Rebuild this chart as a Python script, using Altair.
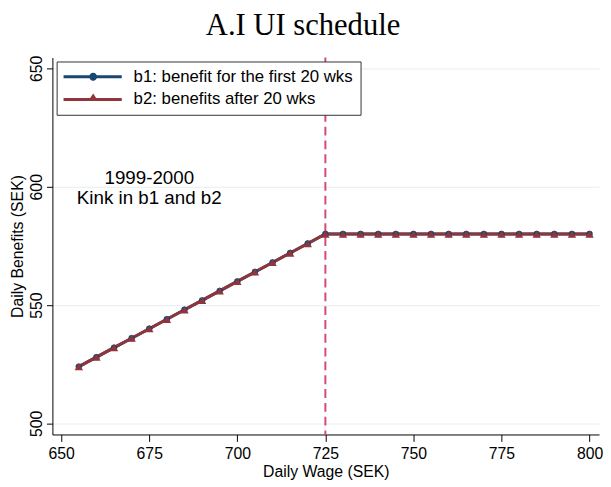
import altair as alt
import pandas as pd

# ---- data ----
wage = [655, 660, 665, 670, 675, 680, 685, 690, 695, 700, 705, 710, 715, 720, 725,
        730, 735, 740, 745, 750, 755, 760, 765, 770, 775, 780, 785, 790, 795, 800]
b1 = [524, 528, 532, 536, 540, 544, 548, 552, 556, 560, 564, 568, 572, 576, 580,
      580, 580, 580, 580, 580, 580, 580, 580, 580, 580, 580, 580, 580, 580, 580]
b2 = [524, 528, 532, 536, 540, 544, 548, 552, 556, 560, 564, 568, 572, 576, 580,
      580, 580, 580, 580, 580, 580, 580, 580, 580, 580, 580, 580, 580, 580, 580]
series_names = ["b1: benefit for the first 20 wks", "b2: benefits after 20 wks"]
series_colors = ["#1a476f", "#90353b"]
kink_wage = [725]
note_x = [675]
note_y = [603.6]
note_text = [["1999-2000", "Kink in b1 and b2"]]
x_ticks = [650, 675, 700, 725, 750, 775, 800]
y_ticks = [500, 550, 600, 650]

rows = []
for w, v in zip(wage, b1):
    rows.append({"wage": w, "benefit": v, "series": series_names[0]})
for w, v in zip(wage, b2):
    rows.append({"wage": w, "benefit": v, "series": series_names[1]})
df = pd.DataFrame(rows)
kink_df = pd.DataFrame({"wage": kink_wage})
note_df = pd.DataFrame({"wage": note_x, "benefit": note_y, "text": note_text})

FONT = "Liberation Sans"

xscale = alt.Scale(domain=[647.5, 802.7], nice=False, zero=False)
yscale = alt.Scale(domain=[495.3, 654.6], nice=False, zero=False)
color_scale = alt.Scale(domain=series_names, range=series_colors)

xenc = alt.X("wage:Q", scale=xscale,
             axis=alt.Axis(title="Daily Wage (SEK)", values=x_ticks, grid=False,
                           tickSize=7, labelPadding=4, titlePadding=3))
yenc = alt.Y("benefit:Q", scale=yscale,
             axis=alt.Axis(title="Daily Benefits (SEK)", values=y_ticks, grid=True,
                           gridColor="#e6eef0", tickSize=6, labelAngle=-90,
                           labelAlign="center", labelBaseline="bottom",
                           labelPadding=2, titlePadding=3))

# legend symbols: a line with a marker (units of 8.5 px)
path_b1 = ("M-1,-0.176L5.94,-0.176L5.94,0.176L-1,0.176Z "
           "M3.0,0A0.47,0.47,0,1,1,2.06,0A0.47,0.47,0,1,1,3.0,0Z")
path_b2 = ("M-1,-0.176L5.94,-0.176L5.94,0.176L-1,0.176Z "
           "M2.53,-0.71L3.12,0.18L1.94,0.18Z")

legend = alt.Legend(
    title=None, orient="none", legendX=4.3, legendY=4,
    symbolSize=289, symbolStrokeWidth=0, symbolOpacity=1,
    labelFont=FONT, labelFontSize=17, labelColor="black", labelLimit=500,
    labelExpr="datum.label + '  '",
    labelOffset=54, padding=7, rowPadding=5,
    strokeColor="#333333", fillColor="white",
)

base = alt.Chart(df)
f1 = alt.datum.series == series_names[0]
f2 = alt.datum.series == series_names[1]

line1 = base.transform_filter(f1).mark_line(strokeWidth=3, color=series_colors[0]).encode(x=xenc, y=yenc)
line2 = base.transform_filter(f2).mark_line(strokeWidth=3, color=series_colors[1]).encode(x=xenc, y=yenc)

pts1 = base.transform_filter(f1).mark_point(
    shape="circle", filled=True, size=42, opacity=1, color=series_colors[0]
).encode(x=xenc, y=yenc)

pts2 = base.transform_filter(f2).mark_point(
    shape="triangle-up", filled=True, size=72, opacity=1, color=series_colors[1]
).encode(x=xenc, y=yenc)

legend_layer = base.mark_point(filled=True, opacity=0, strokeWidth=0).encode(
    x=xenc, y=yenc,
    color=alt.Color("series:N", scale=color_scale, legend=legend),
    shape=alt.Shape("series:N", scale=alt.Scale(domain=series_names,
                                                range=[path_b1, path_b2]),
                    legend=legend),
)

kink = alt.Chart(kink_df).mark_rule(color="#d64a72", strokeWidth=2,
                                    strokeDash=[9, 5]).encode(x=alt.X("wage:Q", scale=xscale))

note = alt.Chart(note_df).mark_text(font=FONT, fontSize=19, color="black",
                                    align="center", baseline="middle",
                                    lineHeight=20).encode(
    x=alt.X("wage:Q", scale=xscale), y=alt.Y("benefit:Q", scale=yscale), text="text")

chart = alt.layer(kink, line1, line2, pts1, pts2, note, legend_layer).properties(
    width=554, height=382, background="white",
    title=alt.TitleParams("A.I UI schedule", font="Liberation Serif", fontSize=31,
                          fontWeight="normal", color="black", anchor="middle",
                          dx=-23, offset=14),
    autosize=alt.AutoSizeParams(type="none"),
    padding={"left": 45, "top": 47, "right": 4, "bottom": 50},
).configure_view(stroke=None).configure_axis(
    domainColor="black", tickColor="black", domainWidth=1, tickWidth=1,
    labelFont=FONT, labelFontSize=16, labelColor="black",
    titleFont=FONT, titleFontSize=16, titleFontWeight="normal", titleColor="black",
)

chart.save("out.html", embed_options={"renderer": "svg", "actions": False})
